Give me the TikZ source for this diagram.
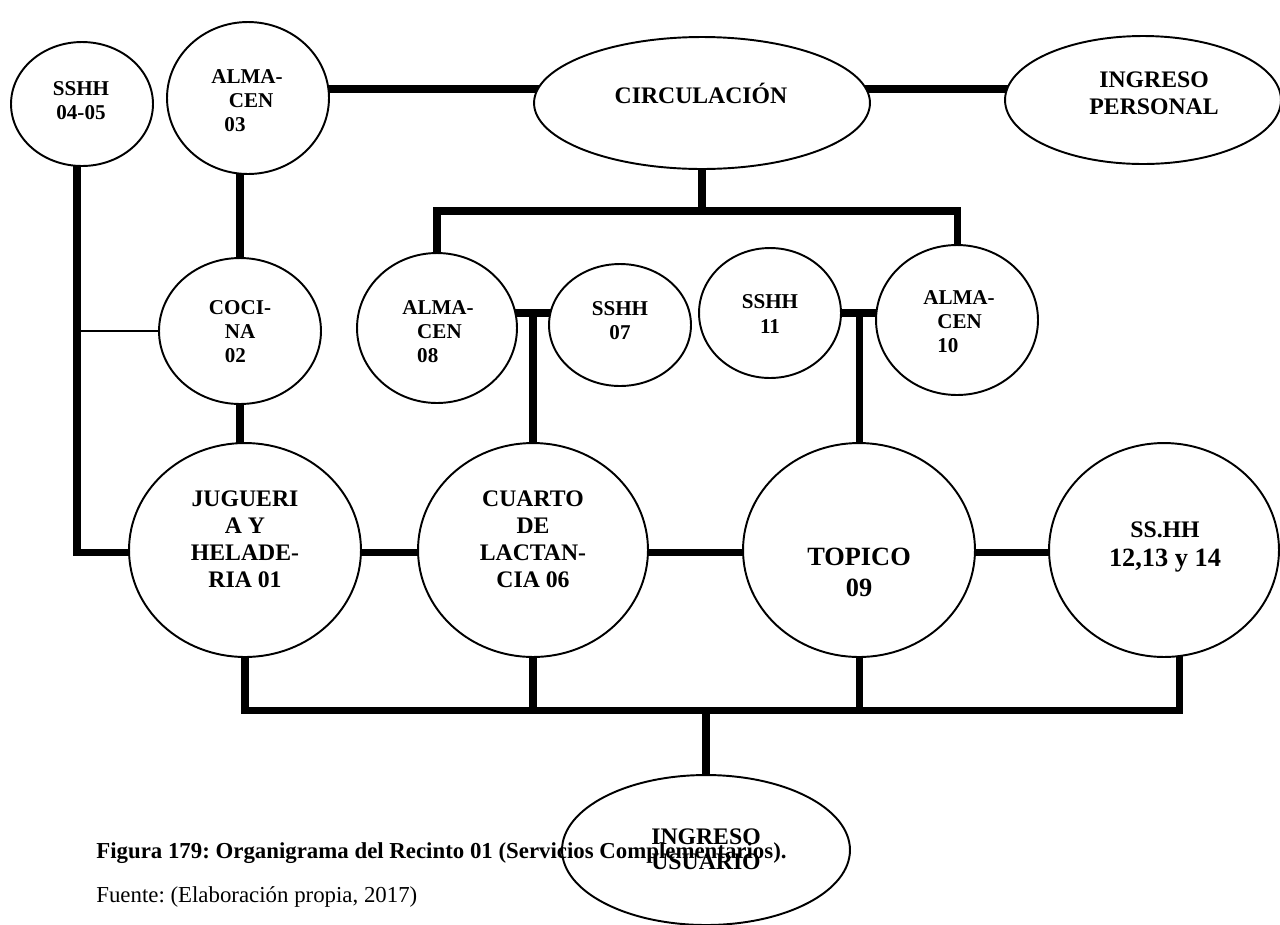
\documentclass[tikz,border=0pt]{standalone}
\usepackage{fontspec}
\setmainfont{Liberation Serif}
\usetikzlibrary{shapes.geometric,calc}
\pgfdeclarelayer{bg}
\pgfsetlayers{bg,main}
\frenchspacing
\begin{document}
\begin{tikzpicture}[x=0.02cm,y=-0.02cm,
  room/.style={ellipse,draw,line width=1.1pt,fill=white,inner sep=0pt},
  lbl/.style={font=\bfseries\fontsize{12}{13.7}\selectfont,align=center,inner sep=0pt},
  lbll/.style={lbl,align=left},
  mid/.style={font=\bfseries\fontsize{13.5}{15.4}\selectfont},
  big/.style={font=\bfseries\fontsize{15}{17.7}\selectfont},
  link/.style={line width=4pt},
  thinlink/.style={line width=0.8pt}]
\useasboundingbox (0,0) rectangle (1280,924);

% rooms
\node[room,minimum width=2.84cm,minimum height=2.48cm] (sshh45) at (82,104) {};
\node[room,minimum width=3.24cm,minimum height=3.04cm] (alm03) at (248,98) {};
\node[room,minimum width=6.72cm,minimum height=2.64cm] (circ) at (702,103) {};
\node[room,minimum width=5.52cm,minimum height=2.56cm] (ingP) at (1143,100) {};
\node[room,minimum width=3.2cm,minimum height=3.0cm] (alm08) at (437,328) {};
\node[room,minimum width=2.84cm,minimum height=2.44cm] (sshh07) at (620,325) {};
\node[room,minimum width=2.84cm,minimum height=2.6cm] (sshh11) at (770,313) {};
\node[room,minimum width=3.24cm,minimum height=3.0cm] (alm10) at (957,320) {};
\node[room,minimum width=3.24cm,minimum height=2.92cm] (coc) at (240,331) {};
\node[room,minimum width=4.64cm,minimum height=4.28cm] (jug) at (245,550) {};
\node[room,minimum width=4.6cm,minimum height=4.28cm] (cua) at (533,550) {};
\node[room,minimum width=4.64cm,minimum height=4.28cm] (top) at (859,550) {};
\node[room,minimum width=4.6cm,minimum height=4.28cm] (ssh12) at (1164,550) {};
\node[room,fill=none,minimum width=5.76cm,minimum height=3.0cm] (ingU) at (706,850) {};

% helper coordinates
\coordinate (ytop) at (0,89);
\coordinate (ymid) at (0,211);
\coordinate (ysub) at (0,313);
\coordinate (yrow) at (0,552);
\coordinate (ybot) at (0,710);
\coordinate (xl) at (77,0);
\coordinate (xr) at (1179,0);

\begin{pgfonlayer}{bg}
\fill[white] (0,0) rectangle (1280,924);
\draw[link] (alm03 |- ytop) -- (ingP |- ytop);
\draw[link] (circ) -- (circ |- ymid);
\draw[link] (alm08) |- (circ |- ymid) -| (alm10);
\draw[link] (alm08 |- ysub) -- (sshh07 |- ysub);
\draw[link] (cua |- ysub) -- (cua);
\draw[link] (sshh11 |- ysub) -- (alm10 |- ysub);
\draw[link] (top |- ysub) -- (top);
\draw[link] (coc) -- (coc |- alm03);
\draw[link] (coc) -- (coc |- jug);
\draw[link] (xl |- sshh45) -- (xl |- yrow) -- (jug |- yrow);
\draw[thinlink] (coc) -- (xl |- coc);
\draw[link] (jug |- yrow) -- (ssh12 |- yrow);
\draw[link] (jug) |- (xr |- ybot) -- (xr |- ssh12);
\draw[link] (cua) -- (cua |- ybot);
\draw[link] (top) -- (top |- ybot);
\end{pgfonlayer}
\draw[link] (ingU.north) -- (ingU |- ybot);

% labels
\node[lbl] (t45) at (81,101) {SSHH\\04-05};
\node[lbll] (t03) at (247,101) {ALMA-\\\hspace*{10pt}CEN\\\hspace*{7.5pt}03};
\node[lbl,mid] (tcirc) at (701,93) {CIRCULACIÓN};
\node[lbl,mid] (tingP) at (1154,93) {INGRESO\\PERSONAL};
\node[lbll] (t08) at (438,332) {ALMA-\\\hspace*{8.5pt}CEN\\\hspace*{8.5pt}08};
\node[lbl] (t07) at (620,321) {SSHH\\07};
\node[lbl] (t11) at (770,314) {SSHH\\11};
\node[lbll] (t10) at (959,322) {ALMA-\\\hspace*{8pt}CEN\\\hspace*{8pt}10};
\node[lbll] (t02) at (240,332) {COCI-\\\hspace*{9pt}NA\\\hspace*{9pt}02};
\node[lbl,mid] (t01) at (245,539) {JUGUERI\\A Y\\HELADE-\\RIA 01};
\node[lbl,mid] (t06) at (533,539) {CUARTO\\DE\\LACTAN-\\CIA 06};
\node[lbl,big] (t09) at (859,572) {TOPICO\\09};
\node[lbl,mid,font=\bfseries\fontsize{13.5}{17}\selectfont] (t12) at (1165,547) {SS.HH\\{\fontsize{15}{17}\selectfont 12,13 y 14}};
\node[lbl,font=\bfseries\fontsize{13.5}{13.7}\selectfont,anchor=base] (tingU) at (706,869) {INGRESO\\USUARIO};

% caption
\node[anchor=base west,inner sep=0pt,font=\bfseries\fontsize{13}{15}\selectfont] (cap) at (96,858) {Figura 179: Organigrama del Recinto 01 (Servicios Complementarios).};
\node[anchor=base west,inner sep=0pt,font=\fontsize{13}{15}\selectfont] (src) at (96,902) {Fuente: (Elaboración propia, 2017)};
\end{tikzpicture}
\end{document}
